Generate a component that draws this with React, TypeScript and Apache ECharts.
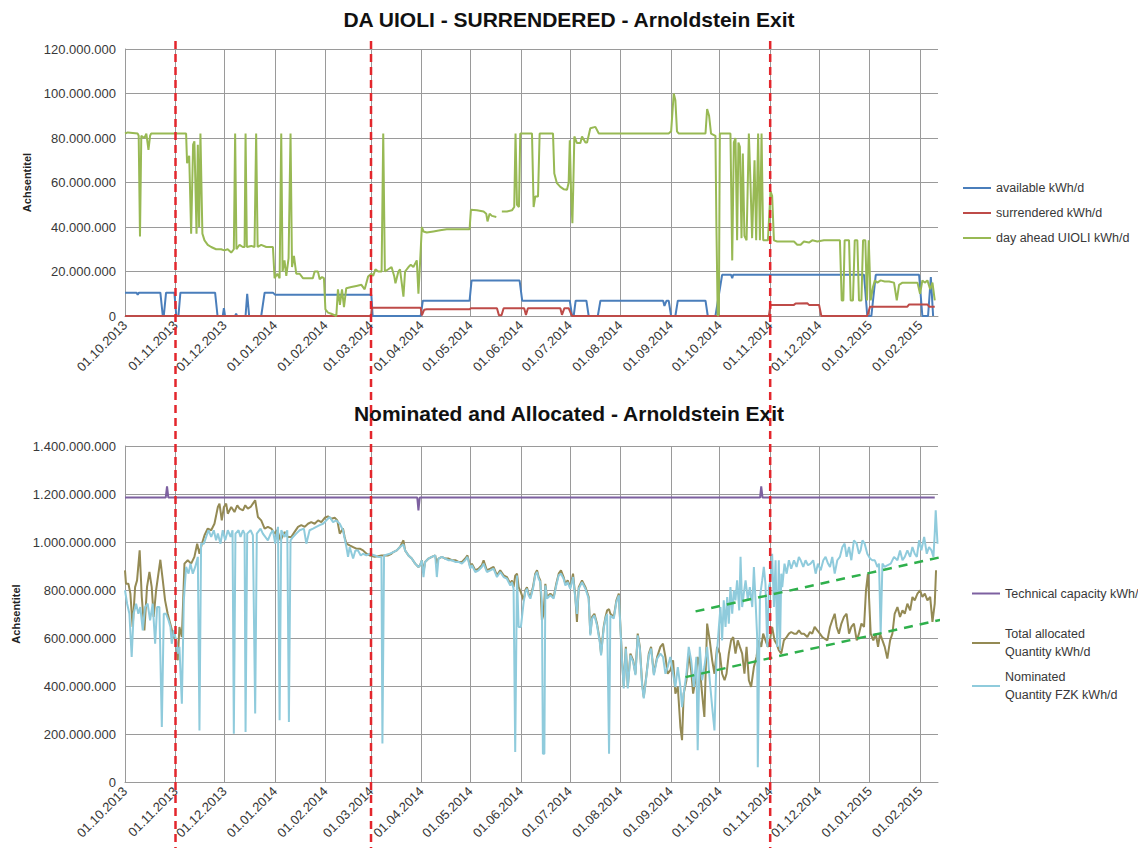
import React, { useEffect, useRef } from "react";
import * as echarts from "echarts";

// ---------- DATA (day offset from 01.10.2013, value in million kWh/d) ----------
const topTitle = "DA UIOLI - SURRENDERED - Arnoldstein Exit";
const bottomTitle = "Nominated and Allocated - Arnoldstein Exit";
const yAxisTitle = "Achsentitel";

const topSeriesNames = ["available kWh/d", "surrendered kWh/d", "day ahead UIOLI kWh/d"];
const bottomSeriesNames = [
  "Technical capacity kWh/d",
  "Total allocated\nQuantity kWh/d",
  "Nominated\nQuantity FZK kWh/d",
];

// month-start tick labels on the x axes
const monthTickLabels = [
  "01.10.2013", "01.11.2013", "01.12.2013", "01.01.2014", "01.02.2014", "01.03.2014",
  "01.04.2014", "01.05.2014", "01.06.2014", "01.07.2014", "01.08.2014", "01.09.2014",
  "01.10.2014", "01.11.2014", "01.12.2014", "01.01.2015", "01.02.2015",
];
const axisEndDay = 499; // 12.02.2015
const markerDays = [31, 151, 396]; // red dashed lines: 01.11.2013, 01.03.2014, 01.11.2014

const availableKWh: [number, number][] = [
  [0, 10.5], [7, 10.5], [7.8, 9.6], [8.6, 10.5], [21.7, 10.5], [23.2, 0], [23.8, 0], [25.2, 10.5],
  [30.3, 10.5], [31.5, 0], [32.8, 0], [34, 10.5], [55.3, 10.5], [56.8, 0], [60, 0], [60.7, 3.5],
  [61.4, 0], [67.6, 0], [68.2, 1], [68.8, 0], [74, 0], [75, 10], [76.2, 0], [83.6, 0], [85.7, 10.5],
  [90.8, 10.5], [92.2, 9.5], [151.2, 9.5], [152, 0], [181.5, 0], [182.8, 6.9], [211.5, 6.9],
  [212.7, 15.9], [242.2, 15.9], [243.8, 6.9], [273, 6.9], [274.4, 0], [275.4, 0], [276.6, 6.9],
  [283.2, 6.9], [284.6, 0], [290.2, 0], [291.8, 6.9], [330.3, 6.9], [331.1, 4.5], [332.4, 6.9],
  [333.7, 6.9], [335.2, 0], [337.8, 0], [339.3, 6.9], [356.3, 6.9], [357.7, 0], [362.4, 0],
  [366.5, 18.5], [372, 18.5], [372.7, 17], [373.3, 18.5], [453.6, 18.5], [455.6, 0], [458.1, 0],
  [460.8, 18.5], [487.4, 18.5], [489.4, 0], [492.9, 0], [494.6, 17.5], [496, 0],
];

const surrenderedKWh: [number, number][] = [
  [0, 0], [151, 0], [151.5, 3.7], [181.5, 3.7], [182.2, 0.3], [183.6, 2.8], [185.2, 3], [211.5, 3],
  [212.3, 3.5], [228.3, 3.5], [229.5, 0.3], [231.1, 0.3], [232.4, 3.5], [245, 3.5], [246.1, 0.5],
  [247.3, 3.5], [267.2, 3.5], [268.2, 0.5], [269.7, 3.5], [272.3, 3.5], [274.4, 0], [395.2, 0],
  [396.2, 5], [410.6, 5], [411.6, 5.6], [418.8, 5.7], [419.8, 5], [426, 5], [427.4, 0], [455.6, 0],
  [457.3, 4.2], [480.2, 4.2], [481.3, 5.2], [492.5, 5.2], [493.6, 4.2], [497, 4.2],
];

const dayAheadUioliKWh: [number, number | null][] = [
  [0, 82], [1.7, 82.5], [7.8, 82], [8.4, 81], [9.2, 35.7], [10, 81], [11.9, 80], [13.1, 82], [14.4, 74.7],
  [15.4, 81], [16, 82], [37.5, 82], [38.1, 68.7], [39.4, 72], [40.6, 37], [41.8, 77], [42.6, 78.5],
  [43.9, 37], [44.7, 77], [45.5, 40], [46.3, 82], [47.5, 37], [48.8, 34], [50.8, 32], [52.9, 31],
  [55.9, 30], [59, 30], [61, 29.5], [63, 30], [65.2, 28.5], [66.8, 30], [67.6, 82], [68.4, 30],
  [70.3, 32], [72.3, 31], [73.4, 31], [74, 82], [74.8, 31], [77.5, 31.5], [79.5, 31], [80.5, 82],
  [81.4, 31], [83.6, 32], [86.7, 31], [90.8, 31], [91.8, 17], [93.5, 19], [94.9, 17], [95.9, 82],
  [96.7, 20], [97.9, 25], [99, 18], [100.4, 26], [101.6, 82], [102.5, 22], [103.7, 27], [105.1, 19],
  [107.2, 19], [109.2, 17], [112.3, 17], [115.3, 17], [116.4, 20], [118.4, 20], [119.5, 16.5],
  [120.9, 17.5], [122.1, 17], [123, 3], [124.6, 1.5], [126.6, 1], [128.3, 0.5], [129.7, 0], [130.7, 12],
  [131.9, 5], [133.2, 12], [134.4, 4], [135.8, 12.5], [138.9, 13], [142, 13.5], [145.1, 14], [147.1, 12],
  [149.2, 17.7], [151.2, 19], [152.3, 18], [153.7, 21], [155.4, 20], [157.5, 20], [158.5, 82],
  [159.5, 20], [161.6, 21], [163.6, 22], [165.2, 18], [166, 14.7], [167.8, 20], [168.8, 21], [170.9, 8.7],
  [171.9, 20], [174, 22], [175.4, 23], [177, 22], [179.1, 25], [180.1, 10], [181.1, 24], [182.2, 40],
  [183.2, 38], [185.2, 37.5], [189.3, 38], [193.4, 38.5], [197.5, 39], [201.6, 39], [205.7, 39],
  [211.5, 39], [212.3, 47.7], [216, 47.5], [220.1, 47], [221.7, 46], [222.5, 42.5], [223.8, 46],
  [225.2, 45], [227.9, 44.5], [229.6, null], [231.3, 47], [234.4, 47], [237.5, 47.5], [238.9, 49],
  [239.7, 82], [240.6, 50], [241.8, 49], [242.6, 82], [249.8, 82], [250.8, 49], [251.8, 53.7],
  [253.5, 53.7], [254.5, 82], [262.7, 82], [263.5, 64], [265.1, 59.7], [267.2, 58], [269.2, 57],
  [271.3, 56.7], [272.3, 60], [273, 79], [273.8, 55], [274.6, 41.7], [275.2, 60], [275.8, 80.7],
  [277.4, 77.7], [279.5, 77.7], [280.5, 80.7], [282.6, 78], [283.6, 78], [285.6, 84.4], [288.7, 85],
  [290.8, 82], [333.7, 82], [335.2, 83], [336.8, 100], [337.8, 97], [338.8, 83], [339.9, 82],
  [356.3, 82], [357.3, 93], [358.5, 90], [359.7, 82], [362.4, 81], [363, 40], [363.8, 0], [364.5, 1],
  [365.1, 82], [371.6, 82], [372.7, 25], [373.7, 78], [374.7, 80], [375.7, 34], [376.5, 78],
  [377.4, 76], [378.4, 35], [379.2, 73], [380.2, 36], [381.5, 34], [382.9, 82], [383.9, 60],
  [384.9, 35], [386.4, 70], [387.4, 34], [388.6, 82], [389.7, 34], [390.7, 82], [391.7, 34],
  [394.6, 34], [396.2, 56], [397.2, 54], [398.3, 34], [400.3, 33.5], [410.6, 33.5], [412.6, 32],
  [414.7, 32], [416.7, 33.5], [419.8, 33], [421.8, 34], [424.9, 33.5], [429, 34], [438.8, 34],
  [439.9, 7], [440.9, 7], [441.7, 34], [444.4, 34], [445.4, 7], [446.8, 7], [447.9, 34], [449.5, 34],
  [450.5, 7], [452, 7], [453, 34], [454.4, 34], [455.4, 7], [456.5, 34], [457.7, 7], [459.1, 13],
  [460.2, 16], [461.8, 15], [463.8, 16], [466.3, 15.5], [469, 15.5], [472, 15], [473.7, 7], [475.1, 14],
  [477.2, 15], [480.2, 15], [483.3, 15], [486.4, 15], [488, 10], [489.4, 16], [490.9, 15], [492.5, 16],
  [494.2, 12], [495.6, 15], [497, 7],
];

const technicalCapacityKWh: [number, number][] = [
  [0, 1185], [25, 1185], [25.8, 1232], [26.6, 1185], [179.4, 1185], [180.1, 1132], [180.9, 1185],
  [389.8, 1185], [390.5, 1232], [391.3, 1185], [497, 1185],
];

const totalAllocatedKWh: [number, number][] = [
  [0, 882], [0.6, 826], [2.1, 826], [3.3, 785], [4.7, 646], [6.2, 812], [7.4, 840], [9, 965], [10.3, 771],
  [11.9, 632], [13.5, 812], [15, 875], [16.4, 812], [17.6, 688], [19.1, 799], [21.7, 926], [23.2, 840],
  [24.6, 757], [26.2, 701], [28.3, 646], [29.9, 604], [31.4, 590], [32.4, 507], [33.4, 646], [34.9, 604],
  [36.5, 910], [38.5, 924], [40.6, 910], [42.6, 938], [44.3, 993], [45.7, 951], [47.2, 993], [48.8, 1028],
  [50.8, 1056], [52.9, 1049], [54.9, 1076], [57, 1146], [58, 1160], [59.4, 1090], [60.7, 1146],
  [62.1, 1160], [63.1, 1118], [65.2, 1146], [67.2, 1125], [68.9, 1153], [70.3, 1139], [72.4, 1132],
  [73.8, 1153], [75.4, 1139], [77.1, 1146], [78.5, 1160], [79.9, 1174], [81.6, 1104], [83.6, 1090],
  [85.7, 1056], [87.7, 1063], [89.8, 1056], [91.8, 1035], [93.5, 1049], [95.5, 1007], [98, 1042],
  [100, 1021], [102, 1021], [104.1, 1042], [106.2, 1063], [108.2, 1070], [110.3, 1063], [112.3, 1076],
  [114.3, 1083], [116.4, 1076], [118.5, 1090], [120.5, 1083], [122.6, 1101], [124.6, 1107],
  [126.7, 1097], [128.7, 1101], [130.3, 1090], [131.8, 1035], [133.8, 1056], [134.8, 1021], [135.9, 993],
  [137.9, 986], [140, 979], [142, 972], [144.1, 972], [146.1, 965], [148.2, 951], [150.2, 944],
  [153.3, 938], [157.4, 944], [161.5, 944], [163.5, 951], [164.7, 958], [166.8, 965], [168.8, 979],
  [170.9, 1007], [171.9, 965], [174, 944], [176, 931], [178.1, 910], [180.1, 896], [181.1, 903],
  [182.2, 924], [183.2, 875], [184.2, 917], [186.3, 931], [188.3, 938], [190.4, 944], [191.4, 910],
  [192.4, 931], [194.5, 938], [196.5, 931], [198.6, 931], [200.6, 924], [202.7, 924], [204.7, 917],
  [206.8, 917], [208.8, 931], [210.2, 944], [211.9, 896], [212.9, 910], [215, 882], [217, 889],
  [219, 903], [220.1, 924], [222.1, 882], [224.2, 889], [226.2, 896], [228.3, 861], [230.3, 882],
  [232.4, 861], [234.4, 854], [236.5, 826], [237.5, 840], [238.5, 812], [239.5, 860], [240.6, 868],
  [241.6, 812], [243, 790], [244.7, 757], [245.7, 799], [246.7, 812], [247.7, 785], [248.8, 771],
  [250.4, 812], [251.8, 868], [252.9, 882], [253.9, 854], [254.9, 840], [255.9, 674], [256.9, 700],
  [258, 826], [259, 771], [261.1, 785], [263.1, 771], [264.7, 826], [266.2, 868], [267.6, 882],
  [269.2, 854], [270.3, 826], [271.7, 840], [273.3, 812], [275, 868], [276.4, 771], [277.4, 667],
  [278.5, 812], [280.5, 840], [282.6, 812], [284.6, 771], [285.6, 618], [286.7, 688], [288.1, 701],
  [289.7, 660], [291.4, 590], [292.2, 535], [293.8, 646], [294.9, 688], [295.9, 715], [297.1, 720],
  [297.9, 701], [300, 688], [301.6, 757], [303.1, 785], [304.1, 646], [305.1, 507], [306.1, 396],
  [307.4, 563], [308.6, 396], [310.2, 535], [311.9, 507], [313.3, 451], [314.7, 618], [316, 563],
  [317.4, 410], [318.4, 354], [320.1, 451], [321.5, 535], [322.9, 563], [324.6, 451], [326.6, 521],
  [328.6, 563], [330.2, 576], [331.7, 521], [333.1, 451], [334.7, 465], [336.4, 507], [337.8, 368],
  [339.3, 396], [340.9, 229], [341.9, 174], [342.9, 368], [344.6, 424], [346, 535], [347.5, 465],
  [348.7, 368], [350.1, 424], [351.5, 521], [352.8, 479], [354.2, 368], [355.6, 271], [357.3, 660],
  [358.9, 590], [360.4, 507], [361.8, 451], [363.4, 563], [365.1, 535], [366.5, 451], [368, 424],
  [369.2, 451], [370.6, 535], [372, 590], [373.3, 604], [374.7, 535], [376.1, 590], [377.4, 563],
  [378.8, 535], [380.2, 451], [381.5, 563], [382.9, 424], [384.3, 396], [386, 479], [387.6, 521],
  [389, 590], [390.5, 563], [391.7, 618], [393.1, 590], [394.6, 563], [395.8, 590], [397.2, 646],
  [398.7, 590], [399.9, 576], [401.3, 549], [402.8, 535], [404.4, 590], [406.1, 604], [407.5, 618],
  [408.9, 625], [410.6, 618], [412.2, 618], [413.6, 632], [415.1, 618], [416.7, 618], [418.8, 604],
  [420.4, 625], [421.8, 618], [423.3, 646], [424.9, 632], [426.5, 618], [428, 604], [429.4, 597],
  [431.1, 590], [432.7, 646], [434.1, 674], [435.6, 701], [436.8, 646], [438.2, 618], [439.7, 660],
  [441.3, 688], [442.9, 701], [444.4, 618], [445.8, 646], [447.4, 660], [449.1, 590], [450.5, 618],
  [452, 660], [453.6, 646], [454.8, 799], [456, 868], [457.7, 618], [459.3, 590], [460.8, 618],
  [462.2, 563], [463.4, 618], [464.9, 590], [466.3, 563], [467.9, 514], [469.6, 590], [471, 618],
  [472.4, 701], [474.1, 729], [475.7, 688], [477.2, 715], [478.6, 701], [480.2, 743], [481.9, 715],
  [483.3, 771], [484.7, 757], [486.4, 785], [488, 799], [489.4, 771], [490.9, 785], [492.5, 757],
  [494.2, 771], [495.6, 667], [497, 743], [497.8, 882],
];

const nominatedFzkKWh: [number, number][] = [
  [0, 799], [1.3, 743], [2.7, 701], [4.1, 521], [5.3, 701], [6.8, 743], [8.2, 701], [9.4, 729], [10.9, 632],
  [12.3, 729], [13.9, 743], [15.4, 674], [17, 743], [18.5, 576], [19.7, 729], [21.1, 729], [22.6, 229],
  [23.8, 701], [25.2, 701], [26.7, 674], [27.9, 646], [28.7, 576], [29.9, 632], [31.4, 590], [32.4, 535],
  [33.4, 563], [34.9, 326], [36.1, 757], [37.5, 896], [39, 868], [40.2, 910], [41.6, 868], [43.1, 896],
  [44.7, 938], [45.7, 215], [46.7, 993], [48.4, 993], [49.8, 1021], [51.2, 1049], [52.9, 1021],
  [54.5, 1049], [55.9, 1007], [57, 1035], [58.6, 993], [60, 1049], [61.5, 1007], [63.1, 1049],
  [64.8, 1021], [66, 1049], [66.8, 201], [67.8, 1035], [69.7, 1049], [70.9, 1021], [72.4, 1049],
  [73.4, 1035], [74, 208], [75, 1035], [77.1, 1049], [78.5, 1028], [79.9, 285], [80.9, 1035],
  [83.2, 1056], [84.6, 1035], [86.1, 1021], [87.7, 1007], [89.4, 1035], [90.8, 1049], [92.2, 993],
  [93.9, 1063], [94.9, 257], [95.9, 1049], [98, 1021], [99.6, 1049], [100.6, 250], [101.6, 1007],
  [103.1, 1021], [105.1, 1035], [107.2, 1049], [109.8, 1056], [111.3, 993], [113.3, 1049], [115.4, 1056],
  [117.4, 1063], [119.5, 1070], [121.5, 1076], [123.6, 1090], [125.6, 1104], [127.7, 1083], [129.7, 1090],
  [131.8, 1076], [133.8, 1049], [135.9, 979], [136.9, 938], [137.9, 979], [140, 931], [141.4, 965],
  [143, 965], [144.7, 944], [146.1, 951], [148.2, 944], [150.2, 951], [153.3, 944], [155.3, 938],
  [157.4, 938], [158, 160], [159, 944], [162.5, 951], [164.7, 958], [166.8, 965], [168.8, 979],
  [170.9, 990], [171.9, 965], [174, 944], [176, 931], [178.1, 910], [180.1, 896], [181.1, 903],
  [182.2, 924], [183.2, 854], [184.2, 917], [186.3, 931], [188.3, 938], [190.4, 944], [191.4, 854],
  [192.4, 931], [194.5, 938], [196.5, 931], [198.6, 924], [200.6, 924], [202.7, 917], [204.7, 917],
  [206.8, 910], [208.8, 924], [210.2, 938], [211.9, 889], [212.9, 903], [215, 875], [217, 882],
  [219, 896], [220.1, 910], [222.1, 875], [224.2, 882], [226.2, 889], [228.3, 854], [230.3, 875],
  [232.4, 854], [234.4, 847], [236.5, 819], [237.5, 833], [238.5, 805], [239.5, 125], [240.6, 860],
  [241.6, 646], [243, 646], [244.7, 750], [245.7, 792], [246.7, 805], [247.7, 778], [248.8, 764],
  [250.4, 805], [251.8, 861], [252.9, 875], [253.9, 847], [254.9, 833], [255.9, 750], [256.5, 118],
  [257.4, 118], [258, 819], [259, 764], [261.1, 778], [263.1, 764], [264.7, 819], [266.2, 861],
  [267.6, 868], [269.2, 847], [270.3, 819], [271.7, 833], [273.3, 805], [275, 854], [276.4, 764],
  [277.4, 700], [278.5, 805], [280.5, 833], [282.6, 805], [284.6, 764], [285.6, 611], [286.7, 681],
  [288.1, 694], [289.7, 653], [291.4, 583], [292.2, 528], [293.8, 639], [294.9, 681], [295.9, 700],
  [297.1, 118], [297.9, 694], [300, 681], [301.6, 750], [303.1, 778], [304.1, 639], [305.1, 500],
  [306.1, 390], [307.4, 556], [308.6, 390], [310.2, 528], [311.9, 500], [313.3, 445], [314.7, 611],
  [316, 556], [317.4, 403], [318.4, 348], [320.1, 445], [321.5, 528], [322.9, 556], [324.6, 445],
  [326.6, 514], [328.6, 535], [330.2, 521], [331.7, 451], [333.1, 479], [334.7, 521], [336.4, 451],
  [337.8, 396], [339.3, 479], [340.9, 396], [341.9, 312], [342.9, 368], [344.6, 451], [346, 563],
  [347.5, 507], [349.1, 396], [350.7, 521], [351.5, 132], [352.8, 563], [354.2, 424], [355.6, 479],
  [357.3, 563], [358.9, 424], [360.4, 312], [361.8, 215], [363, 507], [364.5, 646], [365.5, 729],
  [366.5, 590], [367.5, 757], [368.6, 646], [369.6, 771], [370.6, 660], [371.6, 812], [372.7, 701],
  [373.7, 799], [374.7, 757], [375.7, 840], [377, 715], [377.8, 938], [378.8, 729], [379.8, 785],
  [380.9, 840], [382.3, 757], [383.5, 812], [385, 729], [386, 896], [387, 757], [388, 604], [388.4, 62],
  [389.7, 771], [391.1, 840], [392.1, 896], [393.1, 826], [394.2, 563], [395.2, 812], [396.2, 840],
  [397.2, 951], [398.3, 729], [399.3, 924], [400.3, 563], [401.3, 924], [402, 549], [402.8, 868],
  [403.4, 812], [404.8, 910], [406.1, 868], [407.5, 924], [408.9, 889], [410.6, 924], [412.2, 896],
  [413.6, 938], [414.7, 924], [416.3, 896], [417.7, 924], [419.2, 903], [420.8, 910], [422.4, 924],
  [423.9, 868], [425.3, 910], [427, 882], [428.6, 924], [430, 938], [431.5, 910], [432.7, 896],
  [434.1, 938], [435.6, 868], [437.2, 924], [438.8, 938], [440.3, 979], [441.7, 993], [442.9, 938],
  [444.4, 979], [445.8, 924], [447.4, 1007], [449.1, 993], [450.5, 951], [451.5, 965], [452.6, 1007],
  [454, 993], [455.6, 951], [457.3, 931], [458.7, 924], [460.2, 924], [461.8, 896], [462.8, 910],
  [463.8, 618], [464.9, 910], [466.3, 896], [467.9, 903], [470, 910], [472, 938], [474.1, 924],
  [475.7, 965], [477.2, 924], [478.6, 938], [480.2, 965], [481.9, 938], [483.3, 979], [484.7, 951],
  [486, 938], [487.4, 1007], [488.8, 965], [490.5, 1021], [492.1, 951], [493.5, 979], [495, 965],
  [496.2, 938], [497, 1035], [497.6, 1132], [498.7, 993],
];

// dashed green trend lines drawn over the lower chart (start / end points)
const upperTrendKWh: [number, number][] = [[350.2, 711], [518.1, 963]];
const lowerTrendKWh: [number, number][] = [[344, 437], [512, 693]];

// ---------- helpers ----------
const DAY = 86400000;
const START = new Date(2013, 9, 1).getTime();
const toTs = (d: number) => START + d * DAY;
const parseLabel = (s: string) => {
  const [dd, mm, yyyy] = s.split(".").map(Number);
  return new Date(yyyy, mm - 1, dd).getTime();
};
const monthTicks = monthTickLabels.map(parseLabel);
const toSeries = (pts: [number, number | null][]) =>
  pts.map(([d, v]) => [toTs(d), v === null ? null : v * 1e6]);
const pad = (n: number) => (n < 10 ? "0" + n : "" + n);
const fmtDate = (v: number) => {
  const d = new Date(v);
  return pad(d.getDate()) + "." + pad(d.getMonth() + 1) + "." + d.getFullYear();
};
const fmtDots = (v: number) => String(Math.round(v)).replace(/\B(?=(\d{3})+(?!\d))/g, ".");

const FONT = "'Liberation Sans', Arial, sans-serif";
const GRID_C = "#9a9a9a";
const TXT = "#383838";
const C_BLUE = "#4a7ebb";
const C_RED = "#be4b48";
const C_GREEN = "#98b954";
const C_PURPLE = "#7d60a0";
const C_OLIVE = "#948a54";
const C_LBLUE = "#8fcbdc";

const GRID_LEFT = 125;
const GRID_RIGHT = 1138 - 938;

const xAxisFor = (gridIndex: number) => ({
  type: "value",
  gridIndex,
  min: toTs(0),
  max: toTs(axisEndDay),
  axisLine: { show: true, onZero: false, lineStyle: { color: GRID_C, width: 1 } },
  axisTick: { show: false, customValues: monthTicks },
  splitLine: { show: true, lineStyle: { color: GRID_C, width: 1 } },
  axisLabel: {
    customValues: monthTicks,
    rotate: 45,
    margin: 7,
    fontSize: 13,
    color: TXT,
    fontFamily: FONT,
    formatter: (v: number) => fmtDate(v),
    hideOverlap: false,
  },
});

const yAxisFor = (gridIndex: number, max: number, interval: number, nameGap: number) => ({
  type: "value",
  gridIndex,
  min: 0,
  max,
  interval,
  name: yAxisTitle,
  nameLocation: "middle",
  nameRotate: 90,
  nameGap,
  nameTextStyle: { fontFamily: FONT, fontSize: 11, fontWeight: "bold", color: "#222" },
  axisLine: { show: true, lineStyle: { color: GRID_C, width: 1 } },
  axisTick: { show: false },
  splitLine: { show: true, lineStyle: { color: GRID_C, width: 1 } },
  axisLabel: { fontSize: 13, color: TXT, fontFamily: FONT, margin: 9, formatter: (v: number) => fmtDots(v) },
});

const lineSeries = (name: string, data: any[], color: string, xi: number, z = 2) => ({
  name,
  type: "line",
  xAxisIndex: xi,
  yAxisIndex: xi,
  data,
  symbol: "none",
  color,
  lineStyle: { color, width: 2 },
  connectNulls: false,
  z,
});

const trendSeries = (data: any[]) => ({
  type: "line",
  xAxisIndex: 1,
  yAxisIndex: 1,
  data,
  symbol: "none",
  clip: false,
  silent: true,
  lineStyle: { color: "#2fb04c", width: 2.5, type: [9, 7] },
  z: 10,
});

const legendText = { fontFamily: FONT, fontSize: 12.5, color: TXT };

const legendItem = (name: string, top: number, lineHeight: number) => ({
  data: [name],
  orient: "vertical",
  left: 967,
  top,
  icon: "rect",
  itemWidth: 28,
  itemHeight: 2,
  textStyle: { ...legendText, lineHeight },
  selectedMode: false,
});

const option: any = {
  animation: false,
  backgroundColor: "#ffffff",
  textStyle: { fontFamily: FONT },
  title: [
    {
      text: topTitle,
      left: "center",
      top: 4,
      textStyle: { fontFamily: FONT, fontSize: 21, fontWeight: "bold", color: "#111" },
    },
    {
      text: bottomTitle,
      left: "center",
      top: 398,
      textStyle: { fontFamily: FONT, fontSize: 21, fontWeight: "bold", color: "#111" },
    },
  ],
  legend: [
    {
      data: topSeriesNames,
      orient: "vertical",
      left: 958,
      top: 175,
      icon: "rect",
      itemWidth: 28,
      itemHeight: 2,
      itemGap: 9,
      textStyle: { ...legendText, lineHeight: 16 },
      selectedMode: false,
    },
    legendItem(bottomSeriesNames[0], 580, 17),
    legendItem(bottomSeriesNames[1], 620, 18),
    legendItem(bottomSeriesNames[2], 663, 18),
  ],
  grid: [
    { left: GRID_LEFT, right: GRID_RIGHT, top: 49, height: 267, outerBoundsMode: "none" },
    { left: GRID_LEFT, right: GRID_RIGHT, top: 446, height: 336, outerBoundsMode: "none" },
  ],
  xAxis: [xAxisFor(0), xAxisFor(1)],
  yAxis: [yAxisFor(0, 120e6, 20e6, 84), yAxisFor(1, 1400e6, 200e6, 84)],
  series: [
    lineSeries(topSeriesNames[0], toSeries(availableKWh), C_BLUE, 0, 2),
    lineSeries(topSeriesNames[1], toSeries(surrenderedKWh), C_RED, 0, 3),
    lineSeries(topSeriesNames[2], toSeries(dayAheadUioliKWh), C_GREEN, 0, 4),
    lineSeries(bottomSeriesNames[0], toSeries(technicalCapacityKWh), C_PURPLE, 1, 2),
    lineSeries(bottomSeriesNames[1], toSeries(totalAllocatedKWh), C_OLIVE, 1, 3),
    lineSeries(bottomSeriesNames[2], toSeries(nominatedFzkKWh), C_LBLUE, 1, 4),
    trendSeries(toSeries(upperTrendKWh)),
    trendSeries(toSeries(lowerTrendKWh)),
  ],
};

export default function App() {
  const ref = useRef<HTMLDivElement>(null);
  useEffect(() => {
    document.body.style.margin = "0";
    document.body.style.overflow = "hidden";
    const chart = echarts.init(ref.current as HTMLDivElement, null, { renderer: "svg" });
    chart.setOption(option);
    const xs = markerDays.map((d) => chart.convertToPixel({ xAxisIndex: 0 }, toTs(d)) as number);
    chart.setOption({
      graphic: xs.map((x) => ({
        type: "line",
        silent: true,
        z: 100,
        shape: { x1: x, y1: 41, x2: x, y2: 848 },
        style: { stroke: "#e3262c", lineWidth: 2.5, lineDash: [8, 5] },
      })),
    });
    return () => chart.dispose();
  }, []);
  return <div ref={ref} style={{ width: 1138, height: 848 }} />;
}
